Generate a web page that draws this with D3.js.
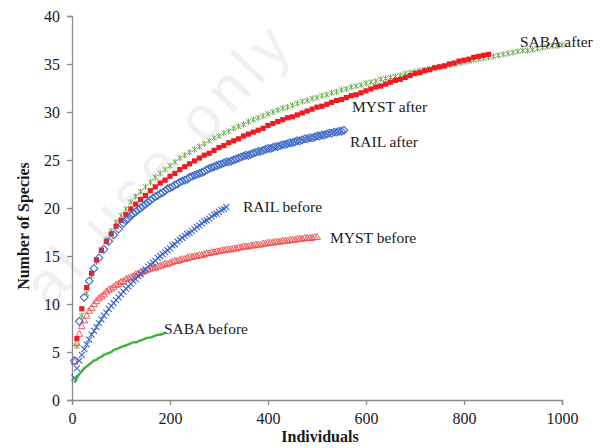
<!DOCTYPE html>
<html><head><meta charset="utf-8">
<script src="https://cdn.jsdelivr.net/npm/d3@7"></script>
<style>html,body{margin:0;padding:0;background:#fff;}svg{display:block;}</style>
</head><body>
<script>
// ---- data ----
const xTicks = [0, 200, 400, 600, 800, 1000];
const yTicks = [0, 5, 10, 15, 20, 25, 30, 35, 40];
const seriesNames = ["SABA after", "SABA before", "MYST before", "MYST after", "RAIL before", "RAIL after"];

// SABA after: x = 10..1000 step 10
const sabaAfterStart = 10, sabaAfterStep = 10;
const sabaAfterY = [5.6, 8.8, 11.1, 12.9, 14.4, 15.6, 16.7, 17.6, 18.5, 19.2,
  19.9, 20.6, 21.2, 21.7, 22.2, 22.7, 23.2, 23.6, 24.0, 24.4,
  24.8, 25.2, 25.5, 25.8, 26.1, 26.4, 26.7, 27.0, 27.3, 27.5,
  27.8, 28.0, 28.3, 28.5, 28.7, 29.0, 29.2, 29.4, 29.6, 29.8,
  30.0, 30.2, 30.4, 30.5, 30.7, 30.9, 31.1, 31.2, 31.4, 31.5,
  31.7, 31.8, 32.0, 32.1, 32.3, 32.4, 32.6, 32.7, 32.8, 33.0,
  33.1, 33.2, 33.4, 33.5, 33.6, 33.7, 33.8, 34.0, 34.1, 34.2,
  34.3, 34.4, 34.5, 34.6, 34.7, 34.8, 34.9, 35.0, 35.1, 35.2,
  35.3, 35.4, 35.5, 35.6, 35.7, 35.8, 35.9, 36.0, 36.1, 36.2,
  36.3, 36.4, 36.4, 36.5, 36.6, 36.7, 36.8, 36.9, 36.9, 37.0];

// MYST after: x = 10..850 step 10
const mystAfterStart = 10, mystAfterStep = 10;
const mystAfterY = [6.4, 9.5, 11.7, 13.2, 14.6, 15.6, 16.5, 17.3, 18.1, 18.7,
  19.3, 19.9, 20.4, 20.9, 21.3, 21.8, 22.2, 22.6, 22.9, 23.3,
  23.6, 24.0, 24.3, 24.6, 24.9, 25.2, 25.5, 25.7, 26.0, 26.3,
  26.5, 26.8, 27.0, 27.2, 27.5, 27.7, 27.9, 28.1, 28.3, 28.6,
  28.8, 29.0, 29.2, 29.4, 29.5, 29.7, 29.9, 30.1, 30.3, 30.5,
  30.6, 30.8, 31.0, 31.2, 31.3, 31.5, 31.7, 31.8, 32.0, 32.2,
  32.4, 32.6, 32.7, 32.9, 33.1, 33.3, 33.4, 33.6, 33.8, 34.0,
  34.1, 34.3, 34.4, 34.6, 34.7, 34.8, 35.0, 35.1, 35.3, 35.4,
  35.5, 35.7, 35.8, 35.9, 36.0];

// RAIL after: x = 5..105 step 10, then 110..555 step 5
const railAfterEarlyStart = 5, railAfterEarlyStep = 10;
const railAfterEarlyY = [4.1, 8.2, 10.7, 12.4, 13.7, 14.8, 15.7, 16.5, 17.2, 17.8, 18.4];
const railAfterLateStart = 110, railAfterLateStep = 5;
const railAfterLateY = [18.7, 18.9, 19.2, 19.4, 19.6, 19.8, 20.0, 20.2, 20.4, 20.6,
  20.8, 21.0, 21.2, 21.3, 21.5, 21.6, 21.8, 22.0, 22.1, 22.2,
  22.4, 22.5, 22.7, 22.8, 22.9, 23.0, 23.2, 23.3, 23.4, 23.5,
  23.6, 23.7, 23.8, 24.0, 24.1, 24.2, 24.3, 24.4, 24.5, 24.6,
  24.7, 24.8, 24.8, 24.9, 25.0, 25.1, 25.2, 25.3, 25.4, 25.5,
  25.5, 25.6, 25.7, 25.8, 25.9, 25.9, 26.0, 26.1, 26.2, 26.2,
  26.3, 26.4, 26.4, 26.5, 26.6, 26.6, 26.7, 26.8, 26.8, 26.9,
  27.0, 27.0, 27.1, 27.2, 27.2, 27.3, 27.3, 27.4, 27.5, 27.5,
  27.6, 27.6, 27.7, 27.8, 27.8, 27.9, 27.9, 28.0, 28.0, 28.1];

// RAIL before: x = 5..315 step 5
const railBeforeStart = 5, railBeforeStep = 5;
const railBeforeY = [2.3, 3.3, 4.1, 4.7, 5.3, 5.8, 6.3, 6.8, 7.2, 7.6,
  8.0, 8.4, 8.8, 9.1, 9.5, 9.8, 10.1, 10.4, 10.7, 11.0,
  11.3, 11.6, 11.8, 12.1, 12.4, 12.6, 12.9, 13.1, 13.4, 13.6,
  13.9, 14.1, 14.3, 14.5, 14.8, 15.0, 15.2, 15.4, 15.6, 15.8,
  16.1, 16.2, 16.5, 16.7, 16.9, 17.1, 17.3, 17.4, 17.6, 17.8,
  18.0, 18.2, 18.4, 18.6, 18.7, 18.9, 19.1, 19.3, 19.4, 19.6,
  19.8, 19.9, 20.1];

// MYST before: x = 5..500 step 5
const mystBeforeStart = 5, mystBeforeStep = 5;
const mystBeforeY = [4.0, 5.9, 6.9, 7.7, 8.3, 8.8, 9.3, 9.6, 10.0, 10.3,
  10.6, 10.8, 11.0, 11.3, 11.5, 11.6, 11.8, 12.0, 12.1, 12.3,
  12.4, 12.6, 12.7, 12.8, 12.9, 13.1, 13.2, 13.3, 13.4, 13.5,
  13.6, 13.7, 13.8, 13.8, 13.9, 14.0, 14.1, 14.2, 14.2, 14.3,
  14.4, 14.5, 14.5, 14.6, 14.7, 14.7, 14.8, 14.9, 14.9, 15.0,
  15.0, 15.1, 15.1, 15.2, 15.3, 15.3, 15.4, 15.4, 15.5, 15.5,
  15.6, 15.6, 15.7, 15.7, 15.7, 15.8, 15.8, 15.9, 15.9, 16.0,
  16.0, 16.0, 16.1, 16.1, 16.2, 16.2, 16.2, 16.3, 16.3, 16.4,
  16.4, 16.4, 16.5, 16.5, 16.5, 16.6, 16.6, 16.6, 16.7, 16.7,
  16.7, 16.8, 16.8, 16.8, 16.9, 16.9, 16.9, 16.9, 17.0, 17.0];

// SABA before: x = 5..190 step 5
const sabaBeforeStart = 5, sabaBeforeStep = 5;
const sabaBeforeY = [1.8, 2.3, 2.7, 3.0, 3.3, 3.5, 3.7, 3.9, 4.1, 4.2,
  4.4, 4.5, 4.7, 4.8, 4.9, 5.0, 5.2, 5.3, 5.4, 5.5,
  5.6, 5.7, 5.8, 5.9, 6.0, 6.0, 6.1, 6.2, 6.3, 6.4,
  6.5, 6.5, 6.6, 6.7, 6.8, 6.8, 6.9, 7.0];

// ---- chart ----
const W = 611, H = 448;
const svg = d3.select("body").append("svg").attr("width", W).attr("height", H)
  .style("background", "#fff");

const x = d3.scaleLinear().domain([0, 1000]).range([72, 562]);
const y = d3.scaleLinear().domain([0, 40]).range([400, 16]);

// faint watermark (visible part only)
svg.append("text")
  .attr("transform", "translate(298,44) rotate(-47)")
  .attr("text-anchor", "end")
  .attr("font-family", "Liberation Sans, Arial, sans-serif")
  .attr("font-size", 60)
  .attr("letter-spacing", 7)
  .attr("fill", "#f0f0f0")
  .text("al use only");

const axisColor = "#8a8a8a";
const serif = "'Liberation Serif', 'Times New Roman', serif";

const gx = svg.append("g").attr("transform", "translate(0,400)")
  .call(d3.axisBottom(x).tickValues(xTicks).tickSize(5).tickPadding(8).tickFormat(d3.format("d")));
const gy = svg.append("g").attr("transform", "translate(72,0)")
  .call(d3.axisLeft(y).tickValues(yTicks).tickSize(5).tickPadding(7).tickFormat(d3.format("d")));
[gx, gy].forEach(g => {
  g.select(".domain").attr("stroke", axisColor).attr("stroke-width", 1.3);
  g.selectAll(".tick line").attr("stroke", axisColor).attr("stroke-width", 1.3);
  g.selectAll(".tick text").attr("fill", "#1a1a1a").attr("font-family", serif).attr("font-size", 16);
});

svg.append("text").attr("x", 320).attr("y", 442).attr("text-anchor", "middle")
  .attr("font-family", serif).attr("font-weight", "bold").attr("font-size", 16)
  .attr("fill", "#1a1a1a").text("Individuals");
svg.append("text").attr("transform", "translate(29,226) rotate(-90)").attr("text-anchor", "middle")
  .attr("font-family", serif).attr("font-weight", "bold").attr("font-size", 16)
  .attr("fill", "#1a1a1a").text("Number of Species");

function pts(start, step, ys) { return ys.map((v, i) => [start + i * step, v]); }

const green = "#6aab4a", green2 = "#3db43a", red = "#ee1c22", red2 = "#f04848", blue = "#3f6cc6", blue2 = "#3a64c2";

const plot = svg.append("g");

function markers(data, pathFn, style) {
  plot.append("g").selectAll("path").data(data).join("path")
    .attr("transform", d => `translate(${x(d[0])},${y(d[1])})`)
    .attr("d", pathFn)
    .attr("fill", style.fill || "none")
    .attr("stroke", style.stroke || "none")
    .attr("stroke-width", style.sw || 1);
}
const starPath = () => { const r = 2.6; return `M${-r},${-r}L${r},${r}M${-r},${r}L${r},${-r}M0,${-r - 0.6}L0,${r + 0.6}`; };
const xPath = () => { const r = 3; return `M${-r},${-r}L${r},${r}M${-r},${r}L${r},${-r}`; };
const diamondPath = () => { const r = 3.9; return `M0,${-r}L${r},0L0,${r}L${-r},0Z`; };
const triPath = () => { const r = 3.4; return `M0,${-r}L${r},${r * 0.75}L${-r},${r * 0.75}Z`; };
const sqPath = () => { const r = 2.6; return `M${-r},${-r}H${r}V${r}H${-r}Z`; };

// SABA after
markers(pts(sabaAfterStart, sabaAfterStep, sabaAfterY), starPath, { stroke: green, sw: 1 });
// SABA before (dense -> solid line)
plot.append("path").datum(pts(sabaBeforeStart, sabaBeforeStep, sabaBeforeY))
  .attr("d", d3.line().x(d => x(d[0])).y(d => y(d[1])).curve(d3.curveMonotoneX))
  .attr("fill", "none").attr("stroke", green2).attr("stroke-width", 2.4);
// MYST before
markers(pts(mystBeforeStart, mystBeforeStep, mystBeforeY), triPath, { stroke: red2, sw: 0.9 });
// MYST after
markers(pts(mystAfterStart, mystAfterStep, mystAfterY), sqPath, { fill: red });
// RAIL before
markers(pts(railBeforeStart, railBeforeStep, railBeforeY), xPath, { stroke: blue2, sw: 1.1 });
// RAIL after
markers(pts(railAfterEarlyStart, railAfterEarlyStep, railAfterEarlyY)
  .concat(pts(railAfterLateStart, railAfterLateStep, railAfterLateY)), diamondPath, { stroke: blue, sw: 1.1 });

// labels
const labels = [
  { t: seriesNames[0], x: 520, y: 47 },
  { t: seriesNames[3], x: 352, y: 112 },
  { t: seriesNames[5], x: 350, y: 147 },
  { t: seriesNames[4], x: 243, y: 212 },
  { t: seriesNames[2], x: 330, y: 243 },
  { t: seriesNames[1], x: 164, y: 334 }
];
svg.append("g").selectAll("text").data(labels).join("text")
  .attr("x", d => d.x).attr("y", d => d.y)
  .attr("font-family", serif).attr("font-size", 15.5).attr("fill", "#1a1a1a")
  .text(d => d.t);
</script>
</body></html>
